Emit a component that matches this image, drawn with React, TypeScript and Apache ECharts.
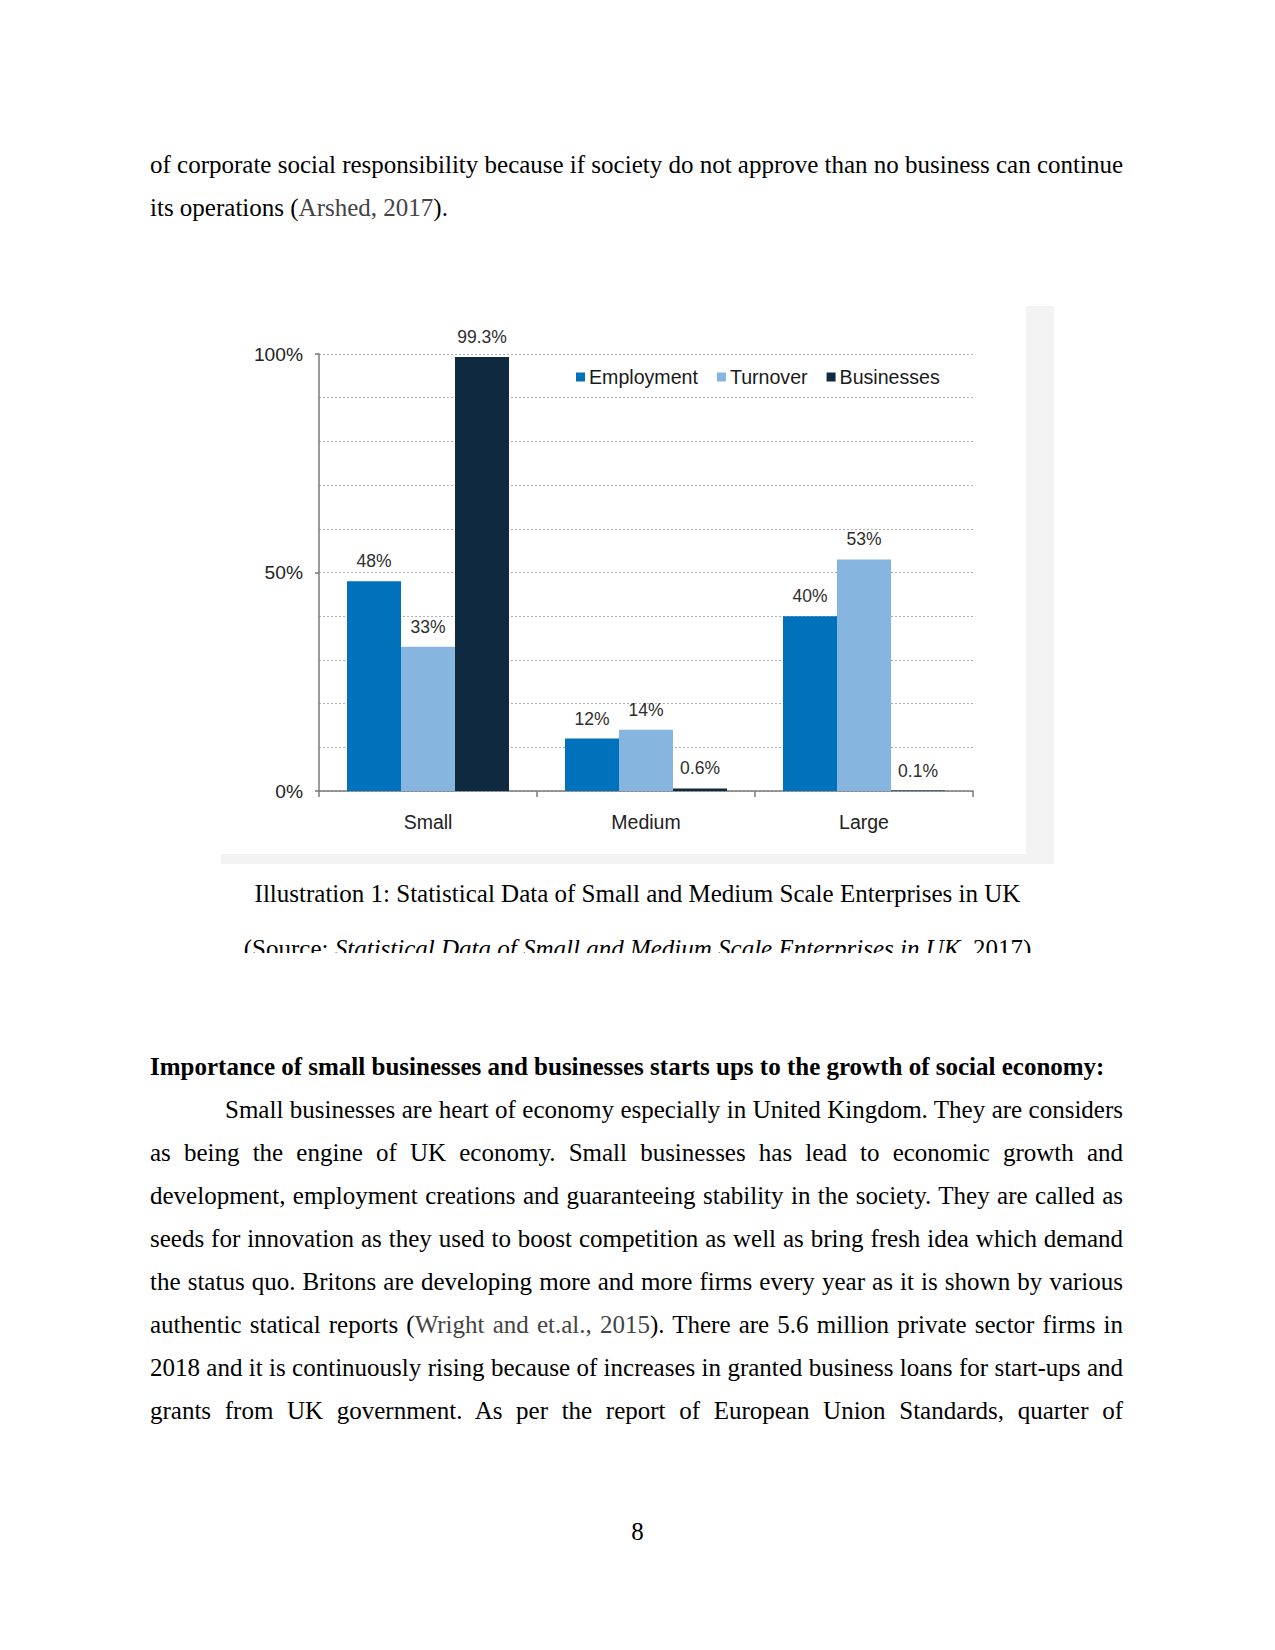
import React, { useEffect, useRef } from "react";
import * as echarts from "echarts";

const categories = ["Small", "Medium", "Large"];
const seriesNames = ["Employment", "Turnover", "Businesses"];
const employment = [48, 12, 40];
const turnover = [33, 14, 53];
const businesses = [99.3, 0.6, 0.1];
const yTickValues = [0, 50, 100];
const seriesColors = ["#0071bb", "#86b6e0", "#0f2a40"];

const SANS = "'Liberation Sans', Arial, sans-serif";
const SERIF = "'Liberation Serif', 'Times New Roman', serif";

function Chart() {
  const ref = useRef<HTMLDivElement>(null);
  useEffect(() => {
    if (!ref.current) return;
    const chart = echarts.init(ref.current, null, { renderer: "svg" });
    const values = [employment, turnover, businesses];
    const axisColor = "#7a7a7a";
    chart.setOption({
      animation: false,
      backgroundColor: "#ffffff",
      textStyle: { fontFamily: SANS },
      grid: { left: 98, top: 48, right: 53, bottom: 63, containLabel: false },
      legend: {
        data: seriesNames,
        left: 350,
        top: 56,
        itemWidth: 9,
        itemHeight: 9,
        itemGap: 19,
        icon: "rect",
        textStyle: { fontFamily: SANS, fontSize: 19.6, color: "#1a1a1a", lineHeight: 20, padding: [0, 0, 0, -1] },
      },
      xAxis: {
        type: "category",
        data: categories,
        axisLine: { lineStyle: { color: axisColor, width: 1.5 } },
        axisTick: { show: true, length: 6, lineStyle: { color: axisColor, width: 1.5 } },
        axisLabel: { fontFamily: SANS, fontSize: 19.5, color: "#222", margin: 21 },
      },
      yAxis: [
        {
          type: "value",
          min: 0,
          max: 100,
          interval: 10,
          axisLine: { show: true, lineStyle: { color: axisColor, width: 1.5 } },
          axisTick: { show: false },
          axisLabel: { show: false },
          splitLine: { show: true, lineStyle: { color: "#b0b0b0", width: 1, type: [2, 2] } },
        },
        {
          type: "value",
          position: "left",
          min: 0,
          max: 100,
          interval: 50,
          axisLine: { show: false },
          axisTick: { show: true, length: 4, customValues: yTickValues, lineStyle: { color: axisColor, width: 1.5 } },
          axisLabel: {
            fontFamily: SANS,
            fontSize: 19.2,
            color: "#222",
            margin: 16,
            customValues: yTickValues,
            formatter: (v: number) => `${v}%`,
          },
          splitLine: { show: false },
        },
      ],
      series: seriesNames.map((name, i) => ({
        name,
        type: "bar",
        yAxisIndex: 0,
        data: values[i],
        barWidth: 54,
        barGap: "0%",
        itemStyle: { color: seriesColors[i] },
        label: {
          show: true,
          position: "top",
          distance: 11,
          fontFamily: SANS,
          fontSize: 17.5,
          color: "#2e2e2e",
          formatter: (p: any) => `${p.value}%`,
        },
      })),
    });
    return () => chart.dispose();
  }, []);
  return <div ref={ref} style={{ position: "absolute", left: 0, top: 0, width: 805, height: 548 }} />;
}

const line = (top: number, justify: boolean, left = 150, width = 973): React.CSSProperties => ({
  position: "absolute",
  left,
  top,
  width,
  height: 30,
  lineHeight: "30px",
  fontFamily: SERIF,
  fontSize: 25,
  color: "#000",
  textAlign: justify ? "justify" : "left",
  textAlignLast: justify ? "justify" : "left",
});

const cite: React.CSSProperties = { color: "#444" };

export default function App() {
  return (
    <div style={{ position: "absolute", left: 0, top: 0, width: 1275, height: 1650, background: "#fff", overflow: "hidden" }}>
      <div style={{ ...line(150, true), wordSpacing: "-2px", whiteSpace: "nowrap" }}>
        of corporate social responsibility because if society do not approve than no business can continue
      </div>
      <div style={line(193, false)}>
        its operations (<span style={cite}>Arshed, 2017</span>).
      </div>

      <div style={{ position: "absolute", left: 221, top: 306, width: 833, height: 558, background: "#f3f3f3" }}>
        <Chart />
      </div>

      <div style={{ ...line(879, false, 0, 1275), textAlign: "center", textAlignLast: "center" }}>
        Illustration 1: Statistical Data of Small and Medium Scale Enterprises in UK
      </div>
      <div style={{ position: "absolute", left: 0, top: 928, width: 1275, height: 25, overflow: "hidden" }}>
        <div style={{ ...line(6, false, 0, 1275), textAlign: "center", textAlignLast: "center" }}>
          (Source: <i>Statistical Data of Small and Medium Scale Enterprises in UK</i>, 2017)
        </div>
      </div>

      <div style={{ ...line(1052, false), fontWeight: "bold" }}>
        Importance of small businesses and businesses starts ups to the growth of social economy:
      </div>
      <div style={line(1095, true, 225, 898)}>Small businesses are heart of economy especially in United Kingdom. They are considers</div>
      <div style={line(1138, true)}>as being the engine of UK economy. Small businesses has lead to economic growth and</div>
      <div style={line(1181, true)}>development, employment creations and guaranteeing stability in the society. They are called as</div>
      <div style={line(1224, true)}>seeds for innovation as they used to boost competition as well as bring fresh idea which demand</div>
      <div style={line(1267, true)}>the status quo. Britons are developing more and more firms every year as it is shown by various</div>
      <div style={line(1310, true)}>
        authentic statical reports (<span style={cite}>Wright and et.al., 2015</span>). There are 5.6 million private sector firms in
      </div>
      <div style={line(1353, true)}>2018 and it is continuously rising because of increases in granted business loans for start-ups and</div>
      <div style={line(1396, true)}>grants from UK government. As per the report of European Union Standards, quarter of</div>

      <div style={{ ...line(1517, false, 0, 1275), textAlign: "center", textAlignLast: "center" }}>8</div>
    </div>
  );
}
